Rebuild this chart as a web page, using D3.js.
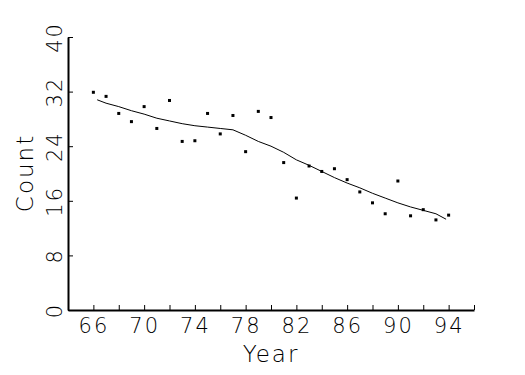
<!DOCTYPE html>
<html>
<head>
<meta charset="utf-8">
<script src="https://cdn.jsdelivr.net/npm/d3@7"></script>
<style>
  body { margin: 0; background: #fff; }
  text { font-family: "DejaVu Sans", "Liberation Sans", sans-serif; font-weight: 200; fill: #000; }
</style>
</head>
<body>
<script>
// yearly counts (scatter)
var years = [66, 67, 68, 69, 70, 71, 72, 73, 74, 75, 76, 77, 78, 79, 80,
  81, 82, 83, 84, 85, 86, 87, 88, 89, 90, 91, 92, 93, 94];
var counts = [31.9, 31.3, 28.8, 27.6, 29.8, 26.6, 30.7, 24.7, 24.8, 28.8, 25.8, 28.5, 23.2, 29.1, 28.2,
  21.6, 16.4, 21.1, 20.3, 20.7, 19.1, 17.3, 15.7, 14.1, 18.9, 13.8, 14.7, 13.2, 13.9];

// smoothed curve
var smoothYears = [66.3, 67, 68, 69, 70, 71, 72, 73, 74, 75, 76, 77, 78, 79, 80,
  81, 82, 83, 84, 85, 86, 87, 88, 89, 90, 91, 92, 93, 93.8];
var smoothCounts = [30.8, 30.3, 29.8, 29.2, 28.7, 28.1, 27.7, 27.3, 27.0, 26.8, 26.6, 26.4, 25.6, 24.7, 24.0,
  23.1, 22.0, 21.2, 20.3, 19.4, 18.6, 17.9, 17.1, 16.4, 15.7, 15.1, 14.6, 14.1, 13.3];

var xTicks = [66, 68, 70, 72, 74, 76, 78, 80, 82, 84, 86, 88, 90, 92, 94, 96];
var xLabels = [66, 70, 74, 78, 82, 86, 90, 94];
var yTicks = [0, 8, 16, 24, 32, 40];

var svgWidth = 525;
var svgHeight = 375;

var svg = d3.select("body").append("svg").attr("width", svgWidth).attr("height", svgHeight);

var x = d3.scaleLinear().domain([64, 96]).range([68, 474]);
var y = d3.scaleLinear().domain([0, 40]).range([310, 37]);

// x axis
var xAxis = svg.append("g")
  .attr("transform", "translate(0,310)")
  .call(d3.axisBottom(x).tickValues(xTicks).tickSizeInner(-5).tickSizeOuter(0).tickPadding(8)
    .tickFormat(d => xLabels.indexOf(d) >= 0 ? d : ""));
xAxis.select(".domain").attr("stroke-width", 2);
xAxis.selectAll("text").attr("font-size", 21).attr("letter-spacing", 2);

// y axis
var yAxis = svg.append("g")
  .attr("transform", "translate(68,0)")
  .call(d3.axisLeft(y).tickValues(yTicks).tickSizeInner(-5).tickSizeOuter(0));
yAxis.select(".domain").attr("stroke-width", 2);
yAxis.selectAll("text")
  .attr("font-size", 21)
  .attr("letter-spacing", 2)
  .attr("transform", "rotate(-90)")
  .attr("text-anchor", "middle")
  .attr("x", 0)
  .attr("y", -6)
  .attr("dy", 0);

// smooth line
var line = d3.line().x(d => x(d[0])).y(d => y(d[1]));
svg.append("path")
  .datum(smoothYears.map((d, i) => [d, smoothCounts[i]]))
  .attr("fill", "none")
  .attr("stroke", "#000")
  .attr("stroke-width", 1)
  .attr("d", line);

// points
svg.selectAll("rect.pt")
  .data(years)
  .enter()
  .append("rect")
  .attr("class", "pt")
  .attr("x", (d, i) => x(d) - 1.5)
  .attr("y", (d, i) => y(counts[i]) - 1.5)
  .attr("width", 3)
  .attr("height", 3)
  .attr("fill", "#000");

// axis titles
svg.append("text")
  .attr("transform", "translate(271,362)")
  .attr("text-anchor", "middle")
  .attr("font-size", 23)
  .attr("letter-spacing", 2)
  .text("Year");
svg.append("text")
  .attr("transform", "translate(33,173) rotate(-90)")
  .attr("text-anchor", "middle")
  .attr("font-size", 23)
  .attr("letter-spacing", 2)
  .text("Count");
</script>
</body>
</html>
